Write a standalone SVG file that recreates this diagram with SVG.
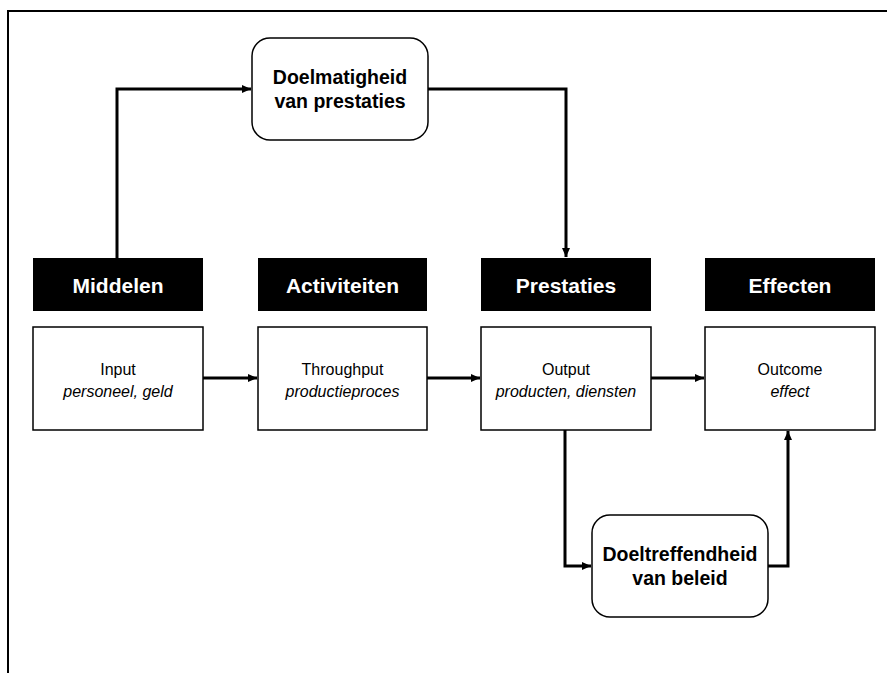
<svg xmlns="http://www.w3.org/2000/svg" width="887" height="673" viewBox="0 0 887 673">
<style>
.hdr{fill:#000}
.hdrt{fill:#fff;font-family:"Liberation Sans",Arial,sans-serif;font-weight:bold;font-size:21px;text-anchor:middle}
.box{fill:#fff;stroke:#000;stroke-width:1.5}
.bt{font-family:"Liberation Sans",Arial,sans-serif;font-size:16px;text-anchor:middle;fill:#000}
.it{font-style:italic}
.rbox{fill:#fff;stroke:#000;stroke-width:1.5}
.rt{font-family:"Liberation Sans",Arial,sans-serif;font-weight:bold;font-size:19.5px;text-anchor:middle;fill:#000}
.con{fill:none;stroke:#000;stroke-width:3;marker-end:url(#ah)}
</style>
<defs>
<marker id="ah" markerUnits="userSpaceOnUse" markerWidth="10" markerHeight="10" refX="9" refY="5" orient="auto">
<path d="M0,1 L9,5 L0,9 Z" fill="#000"/>
</marker>
</defs>
<rect width="887" height="673" fill="#fff"/>
<path d="M8,673 V11 H887" fill="none" stroke="#000" stroke-width="2"/>

<g id="connectors">
<path class="con" d="M117,258 V89 H251"/>
<path class="con" d="M428,89 H566 V257"/>
<path class="con" d="M203,378 H257"/>
<path class="con" d="M427,378 H480"/>
<path class="con" d="M651,378 H704"/>
<path class="con" d="M565,430 V566 H591"/>
<path class="con" d="M768,566 H788 V431"/>
</g>

<g id="middelen"><rect class="hdr" x="33" y="258" width="170" height="53"/><text class="hdrt" x="118" y="293">Middelen</text></g>
<g id="activiteiten"><rect class="hdr" x="258" y="258" width="169" height="53"/><text class="hdrt" x="342.5" y="293">Activiteiten</text></g>
<g id="prestaties"><rect class="hdr" x="481" y="258" width="170" height="53"/><text class="hdrt" x="566" y="293">Prestaties</text></g>
<g id="effecten"><rect class="hdr" x="705" y="258" width="170" height="53"/><text class="hdrt" x="790" y="293">Effecten</text></g>

<g id="input"><rect class="box" x="33" y="327" width="170" height="103"/><text class="bt" x="118" y="375">Input</text><text class="bt it" x="118" y="397">personeel, geld</text></g>
<g id="throughput"><rect class="box" x="258" y="327" width="169" height="103"/><text class="bt" x="342.5" y="375">Throughput</text><text class="bt it" x="342.5" y="397">productieproces</text></g>
<g id="output"><rect class="box" x="481" y="327" width="170" height="103"/><text class="bt" x="566" y="375">Output</text><text class="bt it" x="566" y="397">producten, diensten</text></g>
<g id="outcome"><rect class="box" x="705" y="327" width="170" height="103"/><text class="bt" x="790" y="375">Outcome</text><text class="bt it" x="790" y="397">effect</text></g>

<g id="doelmatigheid"><rect class="rbox" x="252" y="38" width="176" height="102" rx="18" ry="18"/><text class="rt" x="340" y="84">Doelmatigheid</text><text class="rt" x="340" y="108">van prestaties</text></g>
<g id="doeltreffendheid"><rect class="rbox" x="592" y="515" width="176" height="102" rx="18" ry="18"/><text class="rt" x="680" y="561">Doeltreffendheid</text><text class="rt" x="680" y="585">van beleid</text></g>
</svg>
